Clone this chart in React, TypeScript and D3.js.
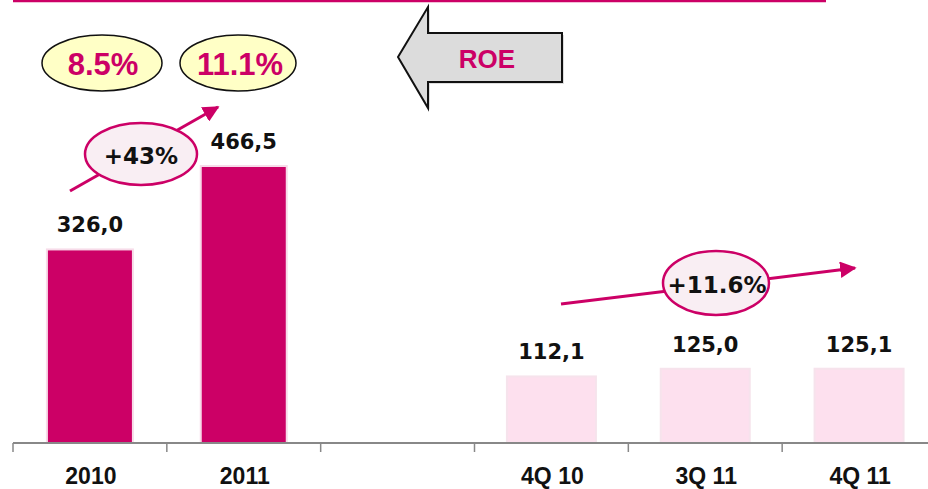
import React from "react";
import * as d3 from "d3";

const categories = ["2010", "2011", "", "4Q 10", "3Q 11", "4Q 11"];
const values: (number | null)[] = [326.0, 466.5, null, 112.1, 125.0, 125.1];
const valueLabels = ["326,0", "466,5", "", "112,1", "125,0", "125,1"];
const barKinds = ["year", "year", "", "quarter", "quarter", "quarter"];
const roeLabels = ["8.5%", "11.1%"];
const growthLabels = ["+43%", "+11.6%"];

const W = 928;
const H = 489;
const MAGENTA = "#cc0066";
const LIGHT = "#fde0ee";

export default function App() {
  const x = d3.scaleBand<string>().domain(categories.map((c, i) => c || "gap" + i)).range([13, 936]).padding(0);
  const y = d3.scaleLinear().domain([0, 466.5]).range([443, 166]);
  const bw = x.bandwidth();
  const key = (i: number) => categories[i] || "gap" + i;
  const cx = (i: number) => (x(key(i)) as number) + bw / 2;

  const ticks = categories.map((_, i) => x(key(i)) as number);

  const arrowPath = "M398,57 L428,7 L428,33 L562,33 L562,82 L428,82 L428,108 Z";

  return (
    <svg width={W} height={H} style={{ position: "absolute", left: 0, top: 0, background: "#fff" }}>
      <defs>
        <marker id="ah" viewBox="0 0 10 10" refX="9" refY="5" markerWidth="5.5" markerHeight="5.5" orient="auto" markerUnits="strokeWidth">
          <path d="M0,0 L10,5 L0,10 Z" fill={MAGENTA} />
        </marker>
      </defs>
      {/* top rule */}
      <line x1={13} x2={826} y1={1} y2={1} stroke={MAGENTA} strokeWidth={2.5} />

      {/* bars */}
      {values.map((v, i) =>
        v == null ? null : (
          <rect
            key={i}
            x={cx(i) - (barKinds[i] === "year" ? 43 : 44.5)}
            y={y(v)}
            width={barKinds[i] === "year" ? 86 : 89}
            height={y(0) - y(v)}
            fill={barKinds[i] === "year" ? MAGENTA : LIGHT}
            stroke={barKinds[i] === "year" ? "#f7dbe9" : "#f6e3ec"}
            strokeWidth={2}
          />
        )
      )}
      {/* value labels */}
      {values.map((v, i) =>
        v == null ? null : (
          <text
            key={"l" + i}
            x={cx(i)}
            y={y(v) - 17}
            textAnchor="middle"
            fontFamily="DejaVu Sans"
            fontWeight="bold"
            fontSize={21}
            fill="#111"
          >
            {valueLabels[i]}
          </text>
        )
      )}

      {/* axis */}
      <line x1={13} x2={928} y1={443} y2={443} stroke="#888" strokeWidth={2} />
      {ticks.map((t, i) => (
        <line key={"t" + i} x1={t} x2={t} y1={443} y2={452} stroke="#888" strokeWidth={1.5} />
      ))}
      {categories.map((c, i) =>
        c ? (
          <text
            key={"c" + i}
            x={cx(i) + 1}
            y={484}
            textAnchor="middle"
            fontFamily="Liberation Sans, Arial, sans-serif"
            fontWeight="bold"
            fontSize={23}
            fill="#111"
          >
            {c}
          </text>
        ) : null
      )}

      {/* ROE ellipses */}
      <ellipse cx={102} cy={63} rx={60} ry={28} fill="#ffffc6" stroke="#111" strokeWidth={1.5} />
      <ellipse cx={238} cy={63} rx={58} ry={28} fill="#ffffc6" stroke="#111" strokeWidth={1.5} />
      <text x={103} y={75} textAnchor="middle" fontFamily="Liberation Sans, Arial, sans-serif" fontWeight="bold" fontSize={31} fill={MAGENTA}>
        {roeLabels[0]}
      </text>
      <text x={240} y={75} textAnchor="middle" fontFamily="Liberation Sans, Arial, sans-serif" fontWeight="bold" fontSize={31} fill={MAGENTA}>
        {roeLabels[1]}
      </text>

      {/* ROE arrow */}
      <path d={arrowPath} transform="translate(2,2)" fill="#bbb" opacity={0.5} />
      <path d={arrowPath} fill="#dcdcdc" stroke="#111" strokeWidth={2} />
      <text x={487} y={68} textAnchor="middle" fontFamily="Liberation Sans, Arial, sans-serif" fontWeight="bold" fontSize={26} fill={MAGENTA}>
        ROE
      </text>

      {/* growth arrows */}
      <line x1={70} y1={191} x2={218} y2={107} stroke={MAGENTA} strokeWidth={3} markerEnd="url(#ah)" />
      <ellipse cx={141} cy={154} rx={56} ry={31} fill="#f9eef3" stroke={MAGENTA} strokeWidth={2.5} />
      <text x={141} y={164} textAnchor="middle" fontFamily="DejaVu Sans" fontWeight="bold" fontSize={23} fill="#111">
        {growthLabels[0]}
      </text>

      <line x1={561} y1={304} x2={855} y2={268} stroke={MAGENTA} strokeWidth={3} markerEnd="url(#ah)" />
      <ellipse cx={716} cy={283} rx={53} ry={32} fill="#f9eef3" stroke={MAGENTA} strokeWidth={2.5} />
      <text x={717} y={293} textAnchor="middle" fontFamily="DejaVu Sans" fontWeight="bold" fontSize={23} fill="#111">
        {growthLabels[1]}
      </text>
    </svg>
  );
}
